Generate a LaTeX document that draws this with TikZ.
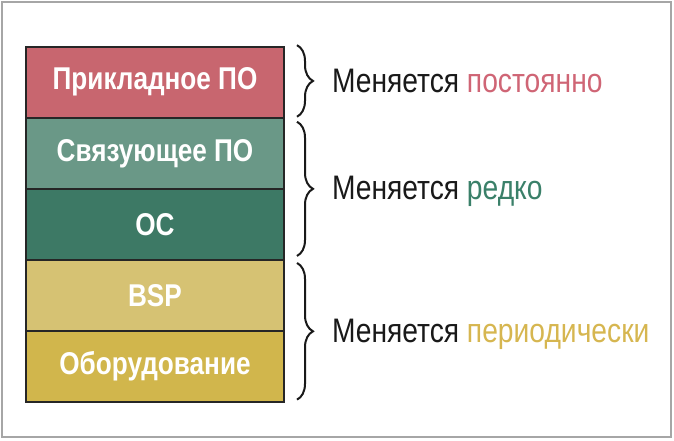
\documentclass[tikz,border=0pt]{standalone}
\usepackage{fontspec}
\setmainfont{Liberation Sans}[FakeStretch=0.83]
\usepackage{tikz}
\usetikzlibrary{decorations.pathreplacing,positioning}
\definecolor{appred}{HTML}{C8666F}
\definecolor{midgreen}{HTML}{6A9887}
\definecolor{osgreen}{HTML}{3D7965}
\definecolor{bspyellow}{HTML}{D6C273}
\definecolor{hwyellow}{HTML}{D1B64C}
\definecolor{txtred}{HTML}{CF6575}
\definecolor{txtgreen}{HTML}{3A8069}
\definecolor{txtyellow}{HTML}{D6B650}

\begin{document}
\begin{tikzpicture}[x=1pt,y=-1pt,
	layer/.style={draw=black!85,line width=2pt,outer sep=0pt,inner sep=0pt,minimum width=258pt,minimum height=71.1pt,text=white,font=\bfseries\fontsize{31.5}{32}\selectfont},
	grp/.style={decorate,decoration={brace,amplitude=16pt},line width=2pt,black!90},
	note/.style={anchor=base west,inner sep=0pt,font=\fontsize{34}{36}\selectfont,text=black!90}]
\useasboundingbox (0,0) rectangle (674,440);
\draw[black!35,line width=2pt] (2,2) rectangle (671,437);
\node (app) [layer,fill=appred] at (155,82.2) {Прикладное ПО};
\node (mid) [layer,fill=midgreen,below=0pt of app] {Связующее ПО};
\node (os) [layer,fill=osgreen,below=0pt of mid] {ОС};
\node (bsp) [layer,fill=bspyellow,below=0pt of os] {BSP};
\node (hw) [layer,fill=hwyellow,below=0pt of bsp] {Оборудование};
\draw [grp] ([shift={(13,-1.5)}]app.north east) -- ([shift={(13,-1)}]app.south east) node [note,midway,xshift=34pt,yshift=-12pt] {Меняется \textcolor{txtred}{постоянно}};
\draw [grp] ([shift={(13,4)}]mid.north east) -- ([shift={(13,-4)}]os.south east) node [note,midway,xshift=34pt,yshift=-11pt] {Меняется \textcolor{txtgreen}{редко}};
\draw [grp] ([shift={(13,3)}]bsp.north east) -- ([shift={(13,-2.5)}]hw.south east) node [note,midway,xshift=34pt,yshift=-11pt] {Меняется \textcolor{txtyellow}{периодически}};
\end{tikzpicture}
\end{document}
